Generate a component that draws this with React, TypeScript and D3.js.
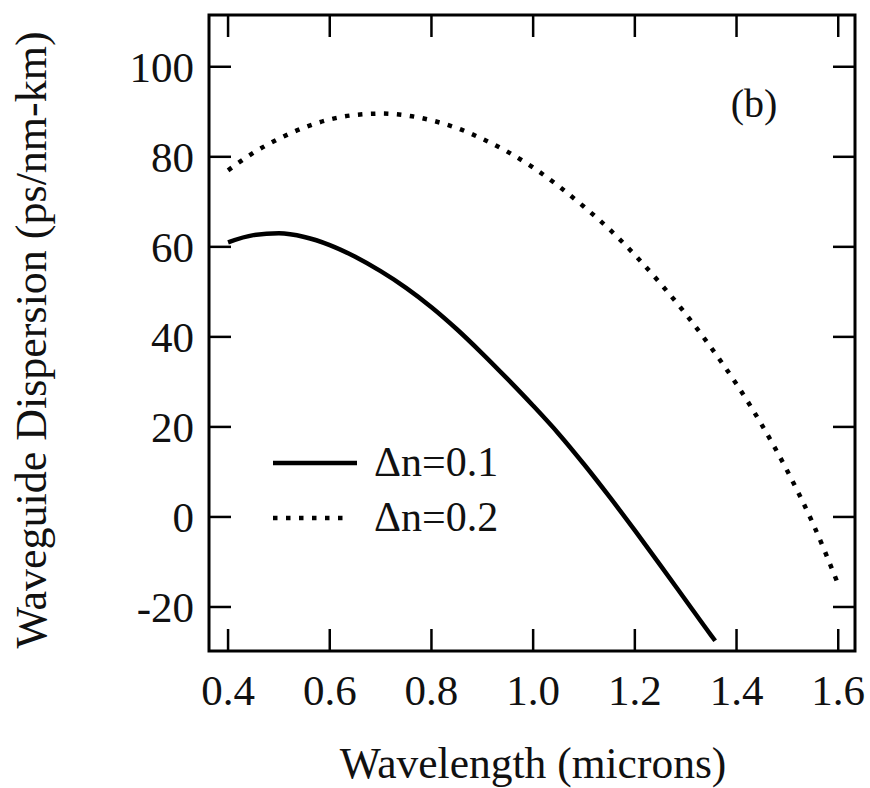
import React, { useEffect, useRef } from "react";
import * as d3 from "d3";

const W = 870;
const H = 788;

const xTicks = [0.4, 0.6, 0.8, 1.0, 1.2, 1.4, 1.6];
const yTicks = [-20, 0, 20, 40, 60, 80, 100];

const wl1 = [0.4, 0.45, 0.5, 0.55, 0.6, 0.65, 0.7, 0.75, 0.8, 0.85, 0.9, 0.95, 1.0, 1.05, 1.1, 1.15, 1.2, 1.25, 1.3, 1.35, 1.358];
const d1 = [61.0, 62.6, 63.0, 62.2, 60.4, 57.8, 54.6, 50.9, 46.6, 41.7, 36.3, 30.6, 24.7, 18.5, 11.7, 4.5, -3.0, -10.7, -18.5, -26.3, -27.5];

const wl2 = [0.4, 0.45, 0.5, 0.55, 0.6, 0.65, 0.7, 0.75, 0.8, 0.85, 0.9, 0.95, 1.0, 1.05, 1.1, 1.15, 1.2, 1.25, 1.3, 1.35, 1.4, 1.45, 1.5, 1.55, 1.6];
const d2 = [77.0, 80.9, 84.0, 86.5, 88.3, 89.3, 89.6, 89.2, 88.1, 86.4, 84.0, 81.1, 77.6, 73.5, 68.9, 63.9, 58.2, 51.9, 45.1, 37.6, 29.5, 20.4, 10.2, -1.4, -15.0];

const legendLabels = ["\u0394n=0.1", "\u0394n=0.2"];
const panelLabel = "(b)";
const xTitle = "Wavelength (microns)";
const yTitle = "Waveguide Dispersion (ps/nm-km)";

const FONT = "Liberation Serif, Tinos, Nimbus Roman, Times New Roman, Times, DejaVu Serif, serif";

export default function App() {
  const ref = useRef<SVGSVGElement>(null);

  useEffect(() => {
    const svg = d3.select(ref.current);
    svg.selectAll("*").remove();

    const left = 209, right = 855, top = 15, bottom = 651;
    const x = d3.scaleLinear().domain([0.3625, 1.633]).range([left, right]);
    const y = d3.scaleLinear().domain([-30, 111.5]).range([652, 15]);

    const g = svg.append("g").style("font-family", FONT);

    const tickLen = 22;
    xTicks.forEach((t) => {
      g.append("line").attr("x1", x(t)).attr("x2", x(t)).attr("y1", bottom).attr("y2", bottom - tickLen)
        .attr("stroke", "#000").attr("stroke-width", 2.5);
      g.append("line").attr("x1", x(t)).attr("x2", x(t)).attr("y1", top).attr("y2", top + tickLen)
        .attr("stroke", "#000").attr("stroke-width", 2.5);
      g.append("text").attr("x", x(t)).attr("y", 705).attr("text-anchor", "middle")
        .style("font-family", FONT).attr("font-size", 43).attr("fill", "#111")
        .text(d3.format(".1f")(t));
    });
    yTicks.forEach((t) => {
      g.append("line").attr("x1", left).attr("x2", left + tickLen).attr("y1", y(t)).attr("y2", y(t))
        .attr("stroke", "#000").attr("stroke-width", 2.5);
      g.append("line").attr("x1", right).attr("x2", right - tickLen).attr("y1", y(t)).attr("y2", y(t))
        .attr("stroke", "#000").attr("stroke-width", 2.5);
      g.append("text").attr("x", 194).attr("y", y(t) + 15).attr("text-anchor", "end")
        .style("font-family", FONT).attr("font-size", 43).attr("fill", "#111")
        .text(String(t));
    });

    g.append("rect").attr("x", left).attr("y", top).attr("width", right - left).attr("height", bottom - top)
      .attr("fill", "none").attr("stroke", "#000").attr("stroke-width", 3);

    const line = d3.line<[number, number]>().x((d) => x(d[0])).y((d) => y(d[1])).curve(d3.curveMonotoneX);

    const s1: [number, number][] = wl1.map((w, i) => [w, d1[i]]);
    const s2: [number, number][] = wl2.map((w, i) => [w, d2[i]]);

    g.append("path").attr("d", line(s1)).attr("fill", "none").attr("stroke", "#000").attr("stroke-width", 4.5);
    g.append("path").attr("d", line(s2)).attr("fill", "none").attr("stroke", "#000").attr("stroke-width", 4.5)
      .attr("stroke-dasharray", "4.5 8.5");

    g.append("line").attr("x1", 273).attr("x2", 357).attr("y1", 463).attr("y2", 463)
      .attr("stroke", "#000").attr("stroke-width", 4.5);
    g.append("line").attr("x1", 273).attr("x2", 349).attr("y1", 518).attr("y2", 518)
      .attr("stroke", "#000").attr("stroke-width", 4.5).attr("stroke-dasharray", "4.5 8.5");
    g.append("text").attr("x", 374).attr("y", 476).style("font-family", FONT).attr("font-size", 42)
      .attr("fill", "#111").text(legendLabels[0]);
    g.append("text").attr("x", 374).attr("y", 531).style("font-family", FONT).attr("font-size", 42)
      .attr("fill", "#111").text(legendLabels[1]);

    g.append("text").attr("x", 754).attr("y", 117).attr("text-anchor", "middle").style("font-family", FONT)
      .attr("font-size", 40).attr("fill", "#111").text(panelLabel);

    g.append("text").attr("x", 533).attr("y", 778).attr("text-anchor", "middle").style("font-family", FONT)
      .attr("font-size", 43.5).attr("fill", "#111").text(xTitle);
    g.append("text").attr("transform", "translate(46,340) rotate(-90)").attr("text-anchor", "middle")
      .style("font-family", FONT).attr("font-size", 44).attr("fill", "#111").text(yTitle);
  }, []);

  return (
    <svg ref={ref} width={W} height={H} style={{ position: "fixed", left: 0, top: 0, background: "#fff" }} />
  );
}
